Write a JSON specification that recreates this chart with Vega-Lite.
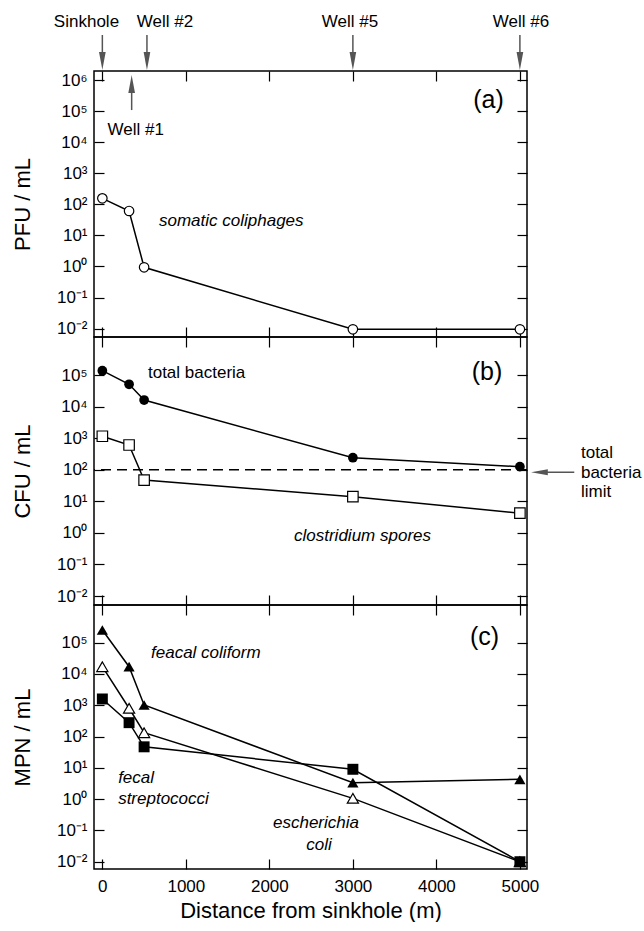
{
  "$schema": "https://vega.github.io/schema/vega-lite/v6.json",
  "background": "white",
  "padding": {"left": 10, "top": 0, "right": 5, "bottom": 0},
  "bounds": "flush",
  "spacing": 0,
  "config": {
    "font": "Liberation Sans",
    "view": {"stroke": "black", "strokeWidth": 1.5},
    "axis": {"grid": false, "domain": false, "tickColor": "black", "tickWidth": 1.2, "tickSize": -10, "labelColor": "black", "labelFont": "Liberation Sans", "labelFontSize": 17, "labelPadding": 17, "labelFlush": false, "labelOverlap": false, "titleFont": "Liberation Sans", "titleFontSize": 22, "titleFontWeight": "normal", "titleColor": "black"},
    "text": {"font": "Liberation Sans", "fontSize": 17, "color": "black", "baseline": "middle"}
  },
  "vconcat": [
    {
      "width": 433, "height": 71,
      "view": {"stroke": null},
      "data": {"values": [
        {"well": "Sinkhole", "pos": 0, "label_x": -190},
        {"well": "Well #2", "pos": 534, "label_x": 750},
        {"well": "Well #5", "pos": 3000, "label_x": 2965},
        {"well": "Well #6", "pos": 5000, "label_x": 5013}
      ]},
      "layer": [
        {"mark": {"type": "text", "fontSize": 17},
         "encoding": {
           "x": {"field": "label_x", "type": "quantitative", "scale": {"domain": [-100, 5085], "nice": false, "zero": false}, "axis": null},
           "y": {"datum": 6.9, "type": "quantitative", "scale": {"domain": [0, 10], "nice": false}, "axis": null},
           "text": {"field": "well"}}},
        {"mark": {"type": "rule", "color": "#555555", "strokeWidth": 1.5},
         "encoding": {
           "x": {"field": "pos", "type": "quantitative", "scale": {"domain": [-100, 5085], "nice": false, "zero": false}, "axis": null},
           "y": {"datum": 5.07, "type": "quantitative", "scale": {"domain": [0, 10], "nice": false}, "axis": null},
           "y2": {"datum": 1.41}}},
        {"mark": {"type": "point", "shape": "M-0.37,-1L0.37,-1L0,1Z", "size": 324, "filled": true, "color": "#555555", "opacity": 1},
         "encoding": {
           "x": {"field": "pos", "type": "quantitative", "scale": {"domain": [-100, 5085], "nice": false, "zero": false}, "axis": null},
           "y": {"datum": 1.41, "type": "quantitative", "scale": {"domain": [0, 10], "nice": false}, "axis": null}}}
      ]
    },
    {
      "width": 433, "height": 266,
      "resolve": {"axis": {"x": "independent", "y": "independent"}},
      "layer": [
        {"data": {"values": [
           {"distance": 0, "pfu": 156}, {"distance": 320, "pfu": 61}, {"distance": 500, "pfu": 0.94},
           {"distance": 3000, "pfu": 0.0095}, {"distance": 5000, "pfu": 0.0095}]},
         "mark": {"type": "line", "color": "black", "strokeWidth": 1.5},
         "encoding": {
           "x": {"field": "distance", "type": "quantitative", "scale": {"domain": [-100, 5085], "nice": false, "zero": false},
                 "axis": {"orient": "bottom", "values": [0, 1000, 2000, 3000, 4000, 5000], "labels": false, "title": null}},
           "y": {"field": "pfu", "type": "quantitative", "scale": {"type": "log", "domain": [0.0053703, 1949845], "nice": false},
                 "axis": {"orient": "left", "values": [0.01, 0.1, 1, 10, 100, 1000, 10000, 100000, 1000000], "labelExpr": "['10⁻²','10⁻¹','10⁰','10¹','10²','10³','10⁴','10⁵','10⁶'][round(log(datum.value)/LN10)+2]", "title": "PFU / mL", "titlePadding": 22}}}},
        {"data": {"values": [
           {"distance": 0, "pfu": 156}, {"distance": 320, "pfu": 61}, {"distance": 500, "pfu": 0.94},
           {"distance": 3000, "pfu": 0.0095}, {"distance": 5000, "pfu": 0.0095}]},
         "mark": {"type": "point", "shape": "circle", "size": 90, "filled": true, "fill": "white", "stroke": "black", "strokeWidth": 1.2, "opacity": 1},
         "encoding": {
           "x": {"field": "distance", "type": "quantitative", "scale": {"domain": [-100, 5085], "nice": false, "zero": false},
                 "axis": {"orient": "top", "values": [0, 1000, 2000, 3000, 4000, 5000], "labels": false, "title": null}},
           "y": {"field": "pfu", "type": "quantitative", "scale": {"type": "log", "domain": [0.0053703, 1949845], "nice": false},
                 "axis": {"orient": "right", "values": [0.01, 0.1, 1, 10, 100, 1000, 10000, 100000, 1000000], "labels": false, "title": null}}}},
        {"data": {"values": [{"pos": 351, "low": 108000, "high": 745000}]},
         "mark": {"type": "rule", "color": "#555555", "strokeWidth": 1.5},
         "encoding": {
           "x": {"field": "pos", "type": "quantitative", "scale": {"domain": [-100, 5085], "nice": false, "zero": false}, "axis": null},
           "y": {"field": "low", "type": "quantitative", "scale": {"type": "log", "domain": [0.0053703, 1949845], "nice": false}, "axis": null},
           "y2": {"field": "high"}}},
        {"data": {"values": [{"pos": 351, "high": 745000}]},
         "mark": {"type": "point", "shape": "M-0.37,1L0.37,1L0,-1Z", "size": 324, "filled": true, "color": "#555555", "opacity": 1},
         "encoding": {
           "x": {"field": "pos", "type": "quantitative", "scale": {"domain": [-100, 5085], "nice": false, "zero": false}, "axis": null},
           "y": {"field": "high", "type": "quantitative", "scale": {"type": "log", "domain": [0.0053703, 1949845], "nice": false}, "axis": null}}},
        {"data": {"values": [{"label": "Well #1", "lx": 400, "ly": 24600}]},
         "mark": {"type": "text", "fontSize": 17, "align": "center"},
         "encoding": {
           "x": {"field": "lx", "type": "quantitative", "scale": {"domain": [-100, 5085], "nice": false, "zero": false}, "axis": null},
           "y": {"field": "ly", "type": "quantitative", "scale": {"type": "log", "domain": [0.0053703, 1949845], "nice": false}, "axis": null},
           "text": {"field": "label"}}},
        {"data": {"values": [{"label": "(a)", "lx": 4624, "ly": 227000}]},
         "mark": {"type": "text", "fontSize": 25, "align": "center"},
         "encoding": {
           "x": {"field": "lx", "type": "quantitative", "scale": {"domain": [-100, 5085], "nice": false, "zero": false}, "axis": null},
           "y": {"field": "ly", "type": "quantitative", "scale": {"type": "log", "domain": [0.0053703, 1949845], "nice": false}, "axis": null},
           "text": {"field": "label"}}},
        {"data": {"values": [{"label": "somatic coliphages", "lx": 678, "ly": 29}]},
         "mark": {"type": "text", "fontSize": 17, "fontStyle": "italic", "align": "left"},
         "encoding": {
           "x": {"field": "lx", "type": "quantitative", "scale": {"domain": [-100, 5085], "nice": false, "zero": false}, "axis": null},
           "y": {"field": "ly", "type": "quantitative", "scale": {"type": "log", "domain": [0.0053703, 1949845], "nice": false}, "axis": null},
           "text": {"field": "label"}}}
      ]
    },
    {
      "width": 433, "height": 268,
      "resolve": {"axis": {"x": "independent", "y": "independent"}},
      "layer": [
        {"data": {"values": [{"limit": 100}]},
         "mark": {"type": "rule", "color": "black", "strokeWidth": 1.5, "strokeDash": [10, 6]},
         "encoding": {
           "y": {"field": "limit", "type": "quantitative", "scale": {"type": "log", "domain": [0.005188, 1599558], "nice": false}, "axis": null}}},
        {"data": {"values": [
           {"distance": 0, "cfu": 137000, "group": "total bacteria"}, {"distance": 320, "cfu": 50800, "group": "total bacteria"},
           {"distance": 500, "cfu": 16100, "group": "total bacteria"}, {"distance": 3000, "cfu": 240, "group": "total bacteria"},
           {"distance": 5000, "cfu": 125, "group": "total bacteria"},
           {"distance": 0, "cfu": 1150, "group": "clostridium spores"}, {"distance": 320, "cfu": 607, "group": "clostridium spores"},
           {"distance": 500, "cfu": 47, "group": "clostridium spores"}, {"distance": 3000, "cfu": 14, "group": "clostridium spores"},
           {"distance": 5000, "cfu": 4.2, "group": "clostridium spores"}]},
         "mark": {"type": "line", "color": "black", "strokeWidth": 1.5},
         "encoding": {
           "detail": {"field": "group"},
           "x": {"field": "distance", "type": "quantitative", "scale": {"domain": [-100, 5085], "nice": false, "zero": false},
                 "axis": {"orient": "bottom", "values": [0, 1000, 2000, 3000, 4000, 5000], "labels": false, "title": null}},
           "y": {"field": "cfu", "type": "quantitative", "scale": {"type": "log", "domain": [0.005188, 1599558], "nice": false},
                 "axis": {"orient": "left", "values": [0.01, 0.1, 1, 10, 100, 1000, 10000, 100000], "labelExpr": "['10⁻²','10⁻¹','10⁰','10¹','10²','10³','10⁴','10⁵','10⁶'][round(log(datum.value)/LN10)+2]", "title": "CFU / mL", "titlePadding": 22}}}},
        {"data": {"values": [
           {"distance": 0, "cfu": 137000}, {"distance": 320, "cfu": 50800}, {"distance": 500, "cfu": 16100},
           {"distance": 3000, "cfu": 240}, {"distance": 5000, "cfu": 125}]},
         "mark": {"type": "point", "shape": "circle", "size": 95, "filled": true, "color": "black", "opacity": 1},
         "encoding": {
           "x": {"field": "distance", "type": "quantitative", "scale": {"domain": [-100, 5085], "nice": false, "zero": false},
                 "axis": {"orient": "top", "values": [0, 1000, 2000, 3000, 4000, 5000], "labels": false, "title": null}},
           "y": {"field": "cfu", "type": "quantitative", "scale": {"type": "log", "domain": [0.005188, 1599558], "nice": false},
                 "axis": {"orient": "right", "values": [0.01, 0.1, 1, 10, 100, 1000, 10000, 100000], "labels": false, "title": null}}}},
        {"data": {"values": [
           {"distance": 0, "cfu": 1150}, {"distance": 320, "cfu": 607}, {"distance": 500, "cfu": 47},
           {"distance": 3000, "cfu": 14}, {"distance": 5000, "cfu": 4.2}]},
         "mark": {"type": "point", "shape": "square", "size": 110, "filled": true, "fill": "white", "stroke": "black", "strokeWidth": 1.2, "opacity": 1},
         "encoding": {
           "x": {"field": "distance", "type": "quantitative", "scale": {"domain": [-100, 5085], "nice": false, "zero": false}, "axis": null},
           "y": {"field": "cfu", "type": "quantitative", "scale": {"type": "log", "domain": [0.005188, 1599558], "nice": false}, "axis": null}}},
        {"data": {"values": [{"from": 5651, "to": 5234, "level": 83}]},
         "mark": {"type": "rule", "color": "#555555", "strokeWidth": 1.5},
         "encoding": {
           "x": {"field": "from", "type": "quantitative", "scale": {"domain": [-100, 5085], "nice": false, "zero": false}, "axis": null},
           "x2": {"field": "to"},
           "y": {"field": "level", "type": "quantitative", "scale": {"type": "log", "domain": [0.005188, 1599558], "nice": false}, "axis": null}}},
        {"data": {"values": [{"to": 5234, "level": 83}]},
         "mark": {"type": "point", "shape": "M1,-0.37L1,0.37L-1,0Z", "size": 280, "filled": true, "color": "#555555", "opacity": 1},
         "encoding": {
           "x": {"field": "to", "type": "quantitative", "scale": {"domain": [-100, 5085], "nice": false, "zero": false}, "axis": null},
           "y": {"field": "level", "type": "quantitative", "scale": {"type": "log", "domain": [0.005188, 1599558], "nice": false}, "axis": null}}},
        {"data": {"values": [
           {"label": "total bacteria", "lx": 546, "ly": 116000},
           {"label": "total", "lx": 5731, "ly": 346},
           {"label": "bacteria", "lx": 5731, "ly": 80},
           {"label": "limit", "lx": 5731, "ly": 20.1}]},
         "mark": {"type": "text", "fontSize": 17, "align": "left"},
         "encoding": {
           "x": {"field": "lx", "type": "quantitative", "scale": {"domain": [-100, 5085], "nice": false, "zero": false}, "axis": null},
           "y": {"field": "ly", "type": "quantitative", "scale": {"type": "log", "domain": [0.005188, 1599558], "nice": false}, "axis": null},
           "text": {"field": "label"}}},
        {"data": {"values": [{"label": "(b)", "lx": 4606, "ly": 124000}]},
         "mark": {"type": "text", "fontSize": 25, "align": "center"},
         "encoding": {
           "x": {"field": "lx", "type": "quantitative", "scale": {"domain": [-100, 5085], "nice": false, "zero": false}, "axis": null},
           "y": {"field": "ly", "type": "quantitative", "scale": {"type": "log", "domain": [0.005188, 1599558], "nice": false}, "axis": null},
           "text": {"field": "label"}}},
        {"data": {"values": [{"label": "clostridium spores", "lx": 2295, "ly": 0.8}]},
         "mark": {"type": "text", "fontSize": 17, "fontStyle": "italic", "align": "left"},
         "encoding": {
           "x": {"field": "lx", "type": "quantitative", "scale": {"domain": [-100, 5085], "nice": false, "zero": false}, "axis": null},
           "y": {"field": "ly", "type": "quantitative", "scale": {"type": "log", "domain": [0.005188, 1599558], "nice": false}, "axis": null},
           "text": {"field": "label"}}}
      ]
    },
    {
      "width": 433, "height": 264,
      "resolve": {"axis": {"x": "independent", "y": "independent"}},
      "layer": [
        {"data": {"values": [
           {"distance": 0, "mpn": 255000, "group": "feacal coliform"}, {"distance": 320, "mpn": 17100, "group": "feacal coliform"},
           {"distance": 500, "mpn": 1020, "group": "feacal coliform"}, {"distance": 3000, "mpn": 3.36, "group": "feacal coliform"},
           {"distance": 5000, "mpn": 4.3, "group": "feacal coliform"},
           {"distance": 0, "mpn": 17100, "group": "escherichia coli"}, {"distance": 320, "mpn": 802, "group": "escherichia coli"},
           {"distance": 500, "mpn": 133, "group": "escherichia coli"}, {"distance": 3000, "mpn": 1.06, "group": "escherichia coli"},
           {"distance": 5000, "mpn": 0.01, "group": "escherichia coli"},
           {"distance": 0, "mpn": 1590, "group": "fecal streptococci"}, {"distance": 320, "mpn": 278, "group": "fecal streptococci"},
           {"distance": 500, "mpn": 47, "group": "fecal streptococci"}, {"distance": 3000, "mpn": 9.0, "group": "fecal streptococci"},
           {"distance": 5000, "mpn": 0.01, "group": "fecal streptococci"}]},
         "mark": {"type": "line", "color": "black", "strokeWidth": 1.5},
         "encoding": {
           "detail": {"field": "group"},
           "x": {"field": "distance", "type": "quantitative", "scale": {"domain": [-100, 5085], "nice": false, "zero": false},
                 "axis": {"orient": "bottom", "values": [0, 1000, 2000, 3000, 4000, 5000], "format": "d", "labelPadding": 19, "title": "Distance from sinkhole (m)", "titlePadding": 6}},
           "y": {"field": "mpn", "type": "quantitative", "scale": {"type": "log", "domain": [0.005848, 1603245], "nice": false},
                 "axis": {"orient": "left", "values": [0.01, 0.1, 1, 10, 100, 1000, 10000, 100000], "labelExpr": "['10⁻²','10⁻¹','10⁰','10¹','10²','10³','10⁴','10⁵','10⁶'][round(log(datum.value)/LN10)+2]", "title": "MPN / mL", "titlePadding": 22}}}},
        {"data": {"values": [
           {"distance": 0, "mpn": 17100}, {"distance": 320, "mpn": 802}, {"distance": 500, "mpn": 133},
           {"distance": 3000, "mpn": 1.06}, {"distance": 5000, "mpn": 0.01}]},
         "mark": {"type": "point", "shape": "triangle-up", "size": 125, "filled": true, "fill": "white", "stroke": "black", "strokeWidth": 1.2, "opacity": 1},
         "encoding": {
           "x": {"field": "distance", "type": "quantitative", "scale": {"domain": [-100, 5085], "nice": false, "zero": false},
                 "axis": {"orient": "top", "values": [0, 1000, 2000, 3000, 4000, 5000], "labels": false, "title": null}},
           "y": {"field": "mpn", "type": "quantitative", "scale": {"type": "log", "domain": [0.005848, 1603245], "nice": false},
                 "axis": {"orient": "right", "values": [0.01, 0.1, 1, 10, 100, 1000, 10000, 100000], "labels": false, "title": null}}}},
        {"data": {"values": [
           {"distance": 0, "mpn": 255000}, {"distance": 320, "mpn": 17100}, {"distance": 500, "mpn": 1020},
           {"distance": 3000, "mpn": 3.36}, {"distance": 5000, "mpn": 4.3}]},
         "mark": {"type": "point", "shape": "triangle-up", "size": 125, "filled": true, "color": "black", "opacity": 1},
         "encoding": {
           "x": {"field": "distance", "type": "quantitative", "scale": {"domain": [-100, 5085], "nice": false, "zero": false}, "axis": null},
           "y": {"field": "mpn", "type": "quantitative", "scale": {"type": "log", "domain": [0.005848, 1603245], "nice": false}, "axis": null}}},
        {"data": {"values": [
           {"distance": 0, "mpn": 1590}, {"distance": 320, "mpn": 278}, {"distance": 500, "mpn": 47},
           {"distance": 3000, "mpn": 9.0}, {"distance": 5000, "mpn": 0.01}]},
         "mark": {"type": "point", "shape": "square", "size": 120, "filled": true, "color": "black", "opacity": 1},
         "encoding": {
           "x": {"field": "distance", "type": "quantitative", "scale": {"domain": [-100, 5085], "nice": false, "zero": false}, "axis": null},
           "y": {"field": "mpn", "type": "quantitative", "scale": {"type": "log", "domain": [0.005848, 1603245], "nice": false}, "axis": null}}},
        {"data": {"values": [{"label": "(c)", "lx": 4576, "ly": 152000}]},
         "mark": {"type": "text", "fontSize": 25, "align": "center"},
         "encoding": {
           "x": {"field": "lx", "type": "quantitative", "scale": {"domain": [-100, 5085], "nice": false, "zero": false}, "axis": null},
           "y": {"field": "ly", "type": "quantitative", "scale": {"type": "log", "domain": [0.005848, 1603245], "nice": false}, "axis": null},
           "text": {"field": "label"}}},
        {"data": {"values": [
           {"label": "feacal coliform", "lx": 583, "ly": 48000},
           {"label": "fecal", "lx": 189, "ly": 4.74},
           {"label": "streptococci", "lx": 189, "ly": 1.01}]},
         "mark": {"type": "text", "fontSize": 17, "fontStyle": "italic", "align": "left"},
         "encoding": {
           "x": {"field": "lx", "type": "quantitative", "scale": {"domain": [-100, 5085], "nice": false, "zero": false}, "axis": null},
           "y": {"field": "ly", "type": "quantitative", "scale": {"type": "log", "domain": [0.005848, 1603245], "nice": false}, "axis": null},
           "text": {"field": "label"}}},
        {"data": {"values": [
           {"label": "escherichia", "lx": 2558, "ly": 0.177},
           {"label": "coli", "lx": 2594, "ly": 0.0343}]},
         "mark": {"type": "text", "fontSize": 17, "fontStyle": "italic", "align": "center"},
         "encoding": {
           "x": {"field": "lx", "type": "quantitative", "scale": {"domain": [-100, 5085], "nice": false, "zero": false}, "axis": null},
           "y": {"field": "ly", "type": "quantitative", "scale": {"type": "log", "domain": [0.005848, 1603245], "nice": false}, "axis": null},
           "text": {"field": "label"}}}
      ]
    }
  ]
}
